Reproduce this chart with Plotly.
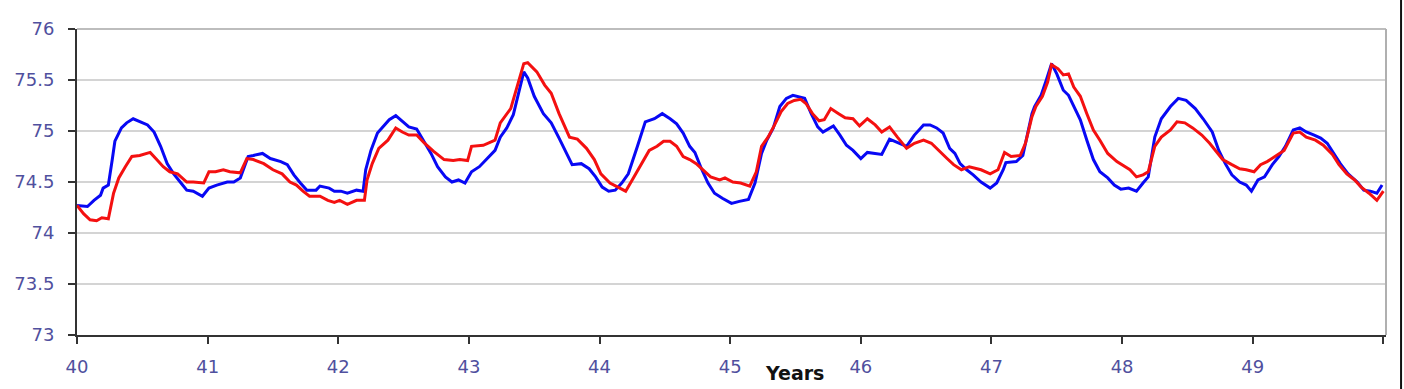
import plotly.graph_objects as go

# ---- data ----
blue_years = [40.0, 40.08, 40.13, 40.18, 40.2, 40.24, 40.27, 40.29, 40.34, 40.38, 40.43, 40.48, 40.54, 40.59,
              40.64, 40.69, 40.74, 40.79, 40.84, 40.89, 40.96, 41.01, 41.07, 41.15, 41.2, 41.25, 41.31, 41.35,
              41.42, 41.48, 41.56, 41.61, 41.66, 41.71, 41.76, 41.83, 41.86, 41.93, 41.97, 42.02, 42.07, 42.14,
              42.19, 42.21, 42.25, 42.3, 42.35, 42.39, 42.44, 42.49, 42.54, 42.6, 42.65, 42.71, 42.76, 42.82,
              42.87, 42.92, 42.97, 43.02, 43.08, 43.14, 43.2, 43.24, 43.29, 43.34, 43.38, 43.42, 43.45, 43.5,
              43.57, 43.63, 43.69, 43.74, 43.79, 43.86, 43.92, 43.97, 44.02, 44.07, 44.12, 44.17, 44.22, 44.29,
              44.35, 44.42, 44.48, 44.54, 44.59, 44.64, 44.69, 44.73, 44.78, 44.83, 44.88, 44.94, 45.01, 45.07,
              45.14, 45.19, 45.24, 45.28, 45.33, 45.38, 45.43, 45.48, 45.53, 45.57, 45.62, 45.67, 45.71, 45.74,
              45.79, 45.84, 45.89, 45.94, 46.0, 46.05, 46.11, 46.16, 46.22, 46.28, 46.35, 46.41, 46.48, 46.53,
              46.58, 46.63, 46.68, 46.72, 46.76, 46.81, 46.86, 46.92, 46.99, 47.04, 47.09, 47.11, 47.19, 47.24,
              47.31, 47.33, 47.38, 47.42, 47.46, 47.5, 47.55, 47.59, 47.63, 47.68, 47.73, 47.78, 47.83, 47.89,
              47.94, 47.99, 48.05, 48.11, 48.16, 48.2, 48.25, 48.3, 48.37, 48.43, 48.49, 48.56, 48.62, 48.69,
              48.74, 48.79, 48.84, 48.9, 48.95, 48.99, 49.04, 49.09, 49.15, 49.2, 49.25, 49.31, 49.36, 49.41,
              49.47, 49.52, 49.57, 49.62, 49.67, 49.73, 49.8, 49.85, 49.9, 49.95, 49.99]
blue_values = [74.27, 74.26, 74.32, 74.37, 74.44, 74.47, 74.72, 74.9, 75.03, 75.08, 75.12, 75.09, 75.06, 74.99,
               74.85, 74.68, 74.58, 74.5, 74.42, 74.41, 74.36, 74.44, 74.47, 74.5, 74.5, 74.54, 74.75, 74.76,
               74.78, 74.73, 74.7, 74.67, 74.57, 74.49, 74.42, 74.42, 74.46, 74.44, 74.41, 74.41, 74.39, 74.42,
               74.41, 74.62, 74.81, 74.98, 75.05, 75.11, 75.15, 75.09, 75.04, 75.02, 74.91, 74.78, 74.65, 74.55,
               74.5, 74.52, 74.49, 74.6, 74.65, 74.73, 74.81, 74.94, 75.03, 75.16, 75.37, 75.58, 75.52, 75.34,
               75.17, 75.08, 74.93, 74.8, 74.67, 74.68, 74.63, 74.55, 74.45, 74.41, 74.42, 74.49, 74.58, 74.85,
               75.09, 75.12, 75.17, 75.12, 75.07, 74.98, 74.85, 74.79, 74.63, 74.49, 74.39, 74.34, 74.29, 74.31,
               74.33, 74.49, 74.78, 74.91, 75.03, 75.24, 75.32, 75.35, 75.33, 75.32, 75.17, 75.04, 74.99, 75.01,
               75.05, 74.96, 74.86, 74.81, 74.73, 74.79, 74.78, 74.77, 74.92, 74.89, 74.85, 74.96, 75.06, 75.06,
               75.03, 74.98, 74.83, 74.78, 74.68, 74.62, 74.57, 74.5, 74.44, 74.49, 74.62, 74.69, 74.7, 74.76,
               75.17, 75.24, 75.35, 75.5, 75.66, 75.56, 75.4, 75.35, 75.24, 75.11, 74.91, 74.72, 74.6, 74.54,
               74.47, 74.43, 74.44, 74.41, 74.49, 74.55, 74.94, 75.12, 75.24, 75.32, 75.3, 75.22, 75.12, 74.99,
               74.81, 74.68, 74.57, 74.5, 74.47, 74.41, 74.52, 74.55, 74.67, 74.75, 74.85, 75.01, 75.03, 74.99,
               74.96, 74.93, 74.88, 74.78, 74.68, 74.58, 74.5, 74.42, 74.41, 74.39, 74.47]

red_years = [40.0, 40.05, 40.1, 40.15, 40.19, 40.24, 40.28, 40.32, 40.37, 40.42, 40.48, 40.56, 40.61, 40.66,
             40.71, 40.77, 40.84, 40.89, 40.97, 41.01, 41.06, 41.12, 41.17, 41.25, 41.3, 41.35, 41.43, 41.5,
             41.57, 41.63, 41.68, 41.73, 41.78, 41.86, 41.92, 41.97, 42.01, 42.07, 42.14, 42.2, 42.22, 42.26,
             42.31, 42.38, 42.44, 42.49, 42.54, 42.6, 42.66, 42.73, 42.81, 42.88, 42.93, 42.99, 43.02, 43.11,
             43.2, 43.24, 43.32, 43.37, 43.42, 43.45, 43.52, 43.58, 43.63, 43.69, 43.77, 43.83, 43.9, 43.96,
             44.01, 44.08, 44.14, 44.2, 44.25, 44.32, 44.38, 44.44, 44.49, 44.54, 44.59, 44.64, 44.69, 44.74,
             44.79, 44.85, 44.92, 44.96, 45.02, 45.08, 45.15, 45.2, 45.24, 45.29, 45.34, 45.39, 45.44, 45.49,
             45.54, 45.58, 45.63, 45.68, 45.72, 45.77, 45.83, 45.88, 45.94, 45.99, 46.05, 46.11, 46.16, 46.22,
             46.28, 46.35, 46.41, 46.48, 46.54, 46.6, 46.66, 46.71, 46.77, 46.83, 46.92, 46.99, 47.05, 47.1,
             47.15, 47.22, 47.26, 47.31, 47.34, 47.39, 47.43, 47.46, 47.51, 47.55, 47.59, 47.63, 47.68, 47.73,
             47.78, 47.83, 47.89, 47.96, 48.02, 48.06, 48.11, 48.16, 48.2, 48.25, 48.3, 48.37, 48.42, 48.48,
             48.54, 48.61, 48.67, 48.72, 48.77, 48.84, 48.9, 48.95, 49.01, 49.06, 49.11, 49.17, 49.24, 49.31,
             49.36, 49.41, 49.48, 49.54, 49.61, 49.66, 49.72, 49.78, 49.83, 49.89, 49.95, 50.0]
red_values = [74.27, 74.19, 74.13, 74.12, 74.15, 74.14, 74.39, 74.54, 74.65, 74.75, 74.76, 74.79, 74.72, 74.65,
              74.6, 74.58, 74.5, 74.5, 74.49, 74.6, 74.6, 74.62, 74.6, 74.59, 74.73, 74.72, 74.68, 74.62,
              74.58, 74.5, 74.47, 74.41, 74.36, 74.36, 74.32, 74.3, 74.32, 74.28, 74.32, 74.32, 74.52, 74.68,
              74.83, 74.91, 75.03, 74.99, 74.96, 74.96, 74.88, 74.8, 74.72, 74.71, 74.72, 74.71, 74.85, 74.86,
              74.91, 75.08, 75.22, 75.43, 75.66, 75.67, 75.58, 75.45, 75.37, 75.17, 74.94, 74.92, 74.83, 74.72,
              74.58, 74.49, 74.45, 74.41, 74.52, 74.68, 74.81, 74.85, 74.9, 74.9, 74.85, 74.75, 74.72, 74.68,
              74.62, 74.55, 74.52, 74.54, 74.5, 74.49, 74.46, 74.6, 74.85, 74.94, 75.06, 75.19, 75.27, 75.3,
              75.31, 75.27, 75.17, 75.1, 75.11, 75.22, 75.17, 75.13, 75.12, 75.05, 75.12, 75.06, 74.99, 75.04,
              74.94, 74.83, 74.88, 74.91, 74.88, 74.8, 74.73, 74.67, 74.62, 74.65, 74.62, 74.58, 74.62, 74.79,
              74.75, 74.76, 74.88, 75.14, 75.24, 75.34, 75.48, 75.65, 75.61, 75.55, 75.56, 75.43, 75.34, 75.17,
              75.01, 74.91, 74.78, 74.7, 74.65, 74.62, 74.55, 74.57, 74.6, 74.85, 74.94, 75.01, 75.09, 75.08,
              75.03, 74.96, 74.88, 74.8, 74.72, 74.67, 74.63, 74.62, 74.6, 74.67, 74.7, 74.75, 74.81, 74.98,
              74.99, 74.94, 74.91, 74.86, 74.77, 74.67, 74.58, 74.52, 74.45, 74.39, 74.32, 74.41]

x_tick_values = [40, 41, 42, 43, 44, 45, 46, 47, 48, 49, 50]
x_tick_labels = ["40", "41", "42", "43", "44", "45", "46", "47", "48", "49", ""]
y_tick_values = [73, 73.5, 74, 74.5, 75, 75.5, 76]
y_tick_labels = ["73", "73.5", "74", "74.5", "75", "75.5", "76"]
x_title = "Years"

TICK_COLOR = "#50509e"

fig = go.Figure()
fig.add_trace(go.Scatter(x=blue_years, y=blue_values, mode="lines",
                         line=dict(color="#0808f4", width=3), showlegend=False))
fig.add_trace(go.Scatter(x=red_years, y=red_values, mode="lines",
                         line=dict(color="#f41010", width=3), showlegend=False))

fig.update_layout(
    width=1404, height=389,
    margin=dict(l=77, r=18, t=29, b=54),
    paper_bgcolor="white", plot_bgcolor="white",
    font=dict(family="DejaVu Sans", size=16, color=TICK_COLOR),
)
fig.update_xaxes(
    range=[40, 50.02], tickmode="array", tickvals=x_tick_values, ticktext=x_tick_labels,
    showgrid=False, zeroline=False,
    showline=True, linecolor="#333333", linewidth=2,
    ticks="outside", ticklen=7, tickwidth=2, tickcolor="#333333",
    tickfont=dict(family="DejaVu Sans", size=18, color=TICK_COLOR),
    ticklabelstandoff=7,
)
fig.update_yaxes(
    range=[73, 76], tickmode="array", tickvals=y_tick_values, ticktext=y_tick_labels,
    showgrid=True, gridcolor="#d4d4d4", gridwidth=2, zeroline=False,
    showline=True, linecolor="#333333", linewidth=2,
    ticks="outside", ticklen=7, tickwidth=2, tickcolor="#333333",
    tickfont=dict(family="DejaVu Sans", size=18, color=TICK_COLOR),
    ticklabelstandoff=10,
)
# top and right frame of the plot area (gray), right-edge black border of the image
fig.add_shape(type="line", xref="paper", yref="paper", x0=0, x1=1, y0=1, y1=1,
              line=dict(color="#bdbdbd", width=2))
fig.add_shape(type="line", xref="paper", yref="paper", x0=1, x1=1, y0=0, y1=1,
              line=dict(color="#b0b0b0", width=2))
fig.add_shape(type="line", xref="paper", yref="paper", x0=1.0115, x1=1.0115, y0=-0.2, y1=1.1,
              line=dict(color="#111111", width=2))
fig.add_annotation(text="<b>" + x_title + "</b>", xref="paper", yref="paper",
                   x=0.5485, y=-0.124, xanchor="center", yanchor="middle", showarrow=False,
                   font=dict(family="DejaVu Sans", size=19, color="#111111"))

fig.write_html("out.html")
